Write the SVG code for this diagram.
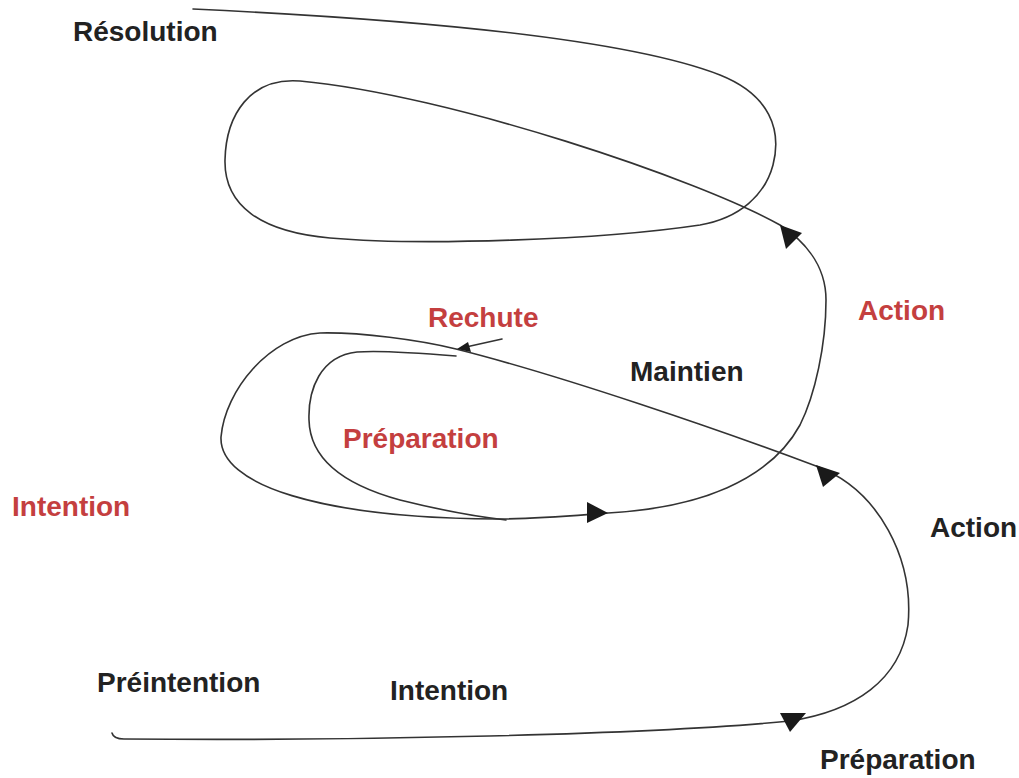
<svg xmlns="http://www.w3.org/2000/svg" width="1019" height="778" viewBox="0 0 1019 778">
<style>
.line{fill:none;stroke:#333;stroke-width:1.6;stroke-linecap:round}
.head{fill:#1a1a1a;stroke:none}
text{font-family:"Liberation Sans",Arial,sans-serif;font-weight:bold;font-size:28px}
.red{fill:#c43f3f}
.blk{fill:#222}
</style>
<rect width="1019" height="778" fill="#fff"/>
<g id="connectors">
<path class="line" d="M112,733 C113,737 116,739 124,739 C350,741 650,735 790,721 C855,711 900,680 908,625 C914,560 880,490 816,466 C720,430 560,375 456,349 C420,340 360,332 320,333 C270,336 225,390 221,437 C219,485 320,518 497,519 C540,519 580,515 608,513 C700,508 770,480 800,425 C815,395 826,345 826,300 C826,262 800,238 780,225 C700,180 450,95 300,81 C250,77 226,115 225,160 C224,205 260,232 330,238 C420,246 600,240 700,225 C740,218 765,195 773,165 C782,130 770,95 720,75 C630,40 430,20 193,9"/>
<path class="line" d="M456,356 C420,353 380,350 357,352 C320,356 308,390 309,420 C310,460 345,485 400,500 C440,510 480,517 506,520"/>
<path class="line" d="M502,339 L466,347"/>
<polygon class="head" points="780,713 806,713 790,732"/>
<polygon class="head" points="816,465 823,487 840,473"/>
<polygon class="head" points="780,225 786,249 802,233"/>
<polygon class="head" points="608,513 587,502 587,523"/>
<polygon class="head" points="457,349 468,342 471,352"/>
</g>
<g id="n-resolution"><text class="blk" x="73" y="41">Résolution</text></g>
<g id="n-action-red"><text class="red" x="858" y="320">Action</text></g>
<g id="n-rechute"><text class="red" x="428" y="327">Rechute</text></g>
<g id="n-maintien"><text class="blk" x="630" y="381">Maintien</text></g>
<g id="n-preparation-red"><text class="red" x="343" y="448">Préparation</text></g>
<g id="n-intention-red"><text class="red" x="12" y="516">Intention</text></g>
<g id="n-action"><text class="blk" x="930" y="537">Action</text></g>
<g id="n-preintention"><text class="blk" x="97" y="692">Préintention</text></g>
<g id="n-intention"><text class="blk" x="390" y="700">Intention</text></g>
<g id="n-preparation"><text class="blk" x="820" y="769">Préparation</text></g>
</svg>
